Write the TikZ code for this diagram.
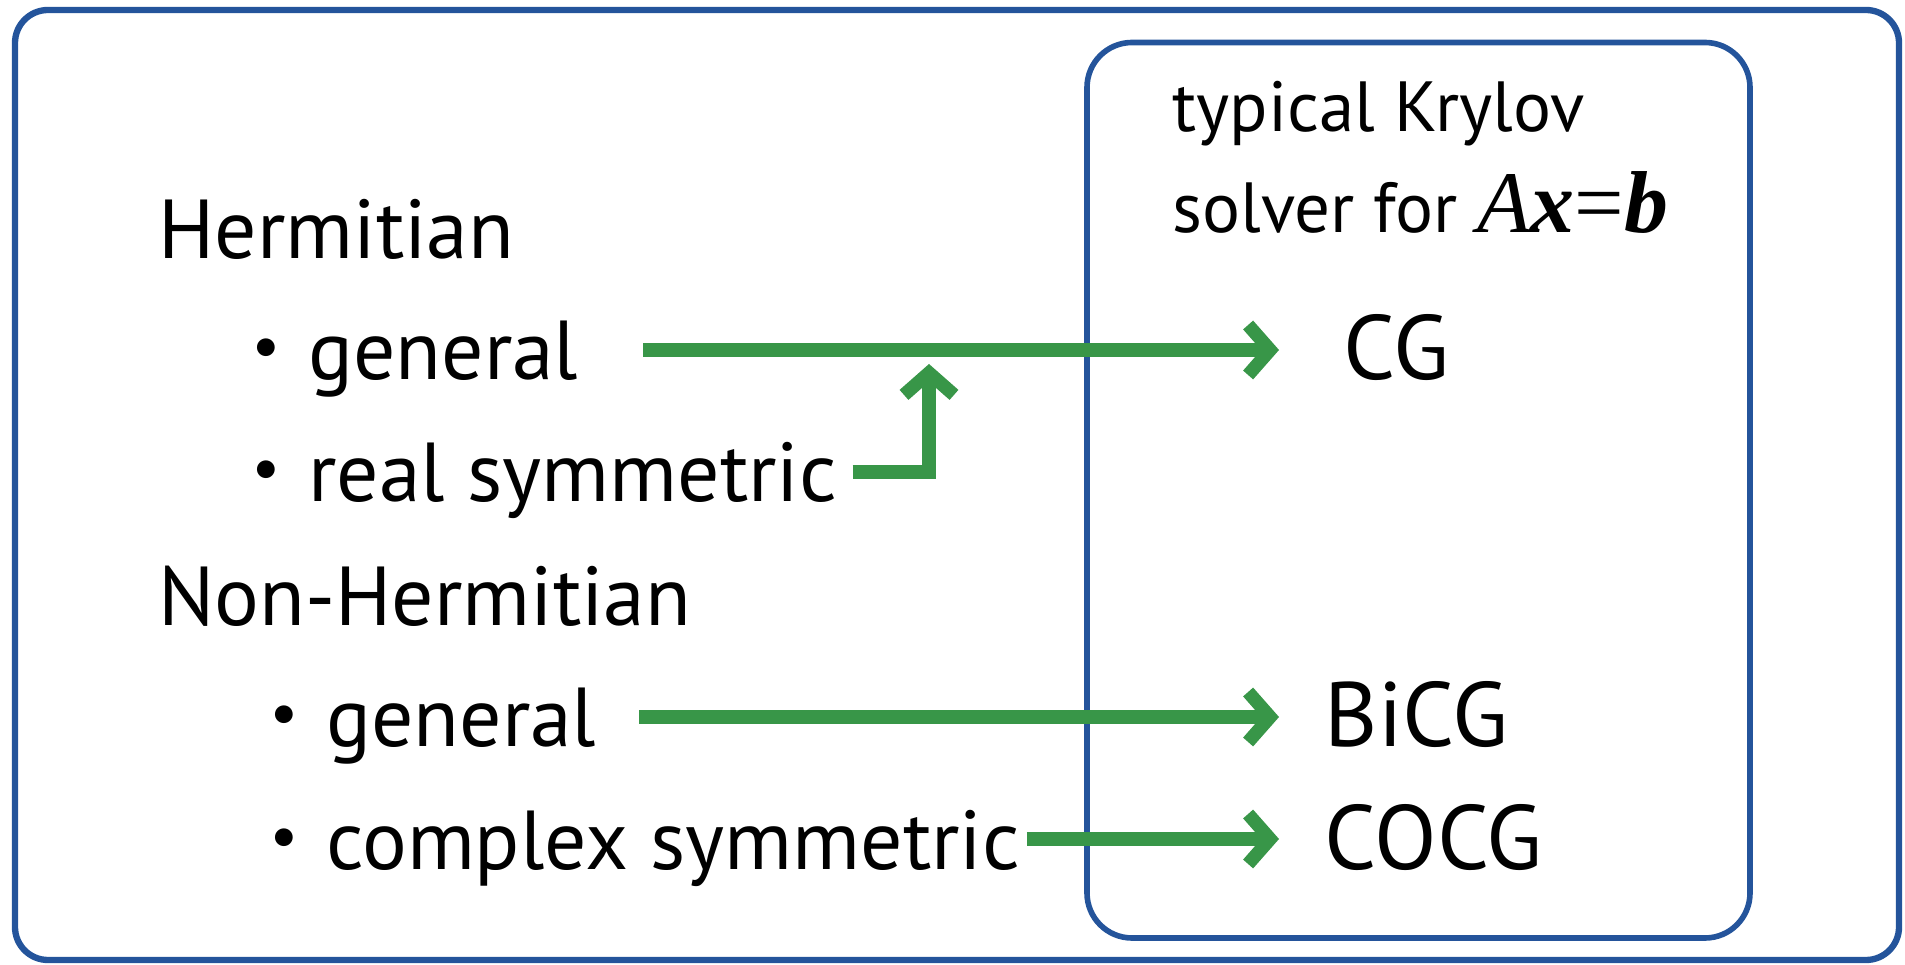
\documentclass[tikz,border=0pt]{standalone}
\usepackage{fontspec}
\setmainfont{PT Sans}
\newfontfamily\cjk{Noto Sans CJK JP}
\newfontfamily\eqfont{Liberation Serif}
\usetikzlibrary{arrows.meta,positioning}
\definecolor{frameblue}{RGB}{36,84,155}
\definecolor{arrowgreen}{RGB}{56,150,72}

\begin{document}
\begin{tikzpicture}[
    outerbox/.style={draw=frameblue,line width=1.8pt,rounded corners=0.33cm},
    panel/.style={draw=frameblue,line width=1.6pt,rounded corners=0.45cm},
    item/.style={anchor=base west,inner sep=0pt,text height=0.6cm,text depth=0pt,font=\fontsize{23.8}{29}\selectfont},
    solver/.style={item,font=\fontsize{26}{30}\selectfont},
    arrow/.style={draw=arrowgreen,line width=3.8pt,-{Straight Barb[length=0.22cm,width=0.5cm]}}
  ]
    \useasboundingbox (0,0) rectangle (19.05,9.64);
    \node[outerbox,minimum width=18.84cm,minimum height=9.5cm] (frame) at (9.57,4.79) {};
    \node[panel,minimum width=6.63cm,minimum height=8.955cm] (solvers) at (14.185,4.7375) {};

    \node[anchor=base west,align=left,inner sep=0pt,font=\fontsize{20.2}{29}\selectfont] (title) at (11.72,7.31)
      {typical Krylov\\solver for {\eqfont\fontsize{25}{29}\selectfont\itshape A\bfseries x\mdseries\upshape=\bfseries\itshape b}};

    \node[item] (herm) at (1.58,7.05) {Hermitian};
    \node[item] (gen1) at (2.24,5.84) {{\cjk ・}general};
    \node[item] (rsym) at (2.24,4.62) {{\cjk ・}real symmetric};
    \node[item] (nonherm) at (1.58,3.38) {Non-Hermitian};
    \node[item] (gen2) at (2.42,2.17) {{\cjk ・}general};
    \node[item] (csym) at (2.42,0.95) {{\cjk ・}complex symmetric};

    \node[solver] (cg) at (13.43,5.84) {CG};
    \node[solver] (bicg) at (13.24,2.17) {BiCG};
    \node[solver] (cocg) at (13.24,0.95) {COCG};
    \coordinate (merge) at (9.29,6.0);

    \draw[arrow,shorten <=0.64cm,shorten >=0.64cm] (gen1) -- (cg);
    \draw[arrow,shorten <=0.15cm] (rsym.east) -| (merge);
    \draw[arrow,shorten <=0.42cm,shorten >=0.45cm] (gen2) -- (bicg);
    \draw[arrow,shorten <=0.06cm,shorten >=0.45cm] (csym) -- (cocg);
  \end{tikzpicture}
\end{document}
